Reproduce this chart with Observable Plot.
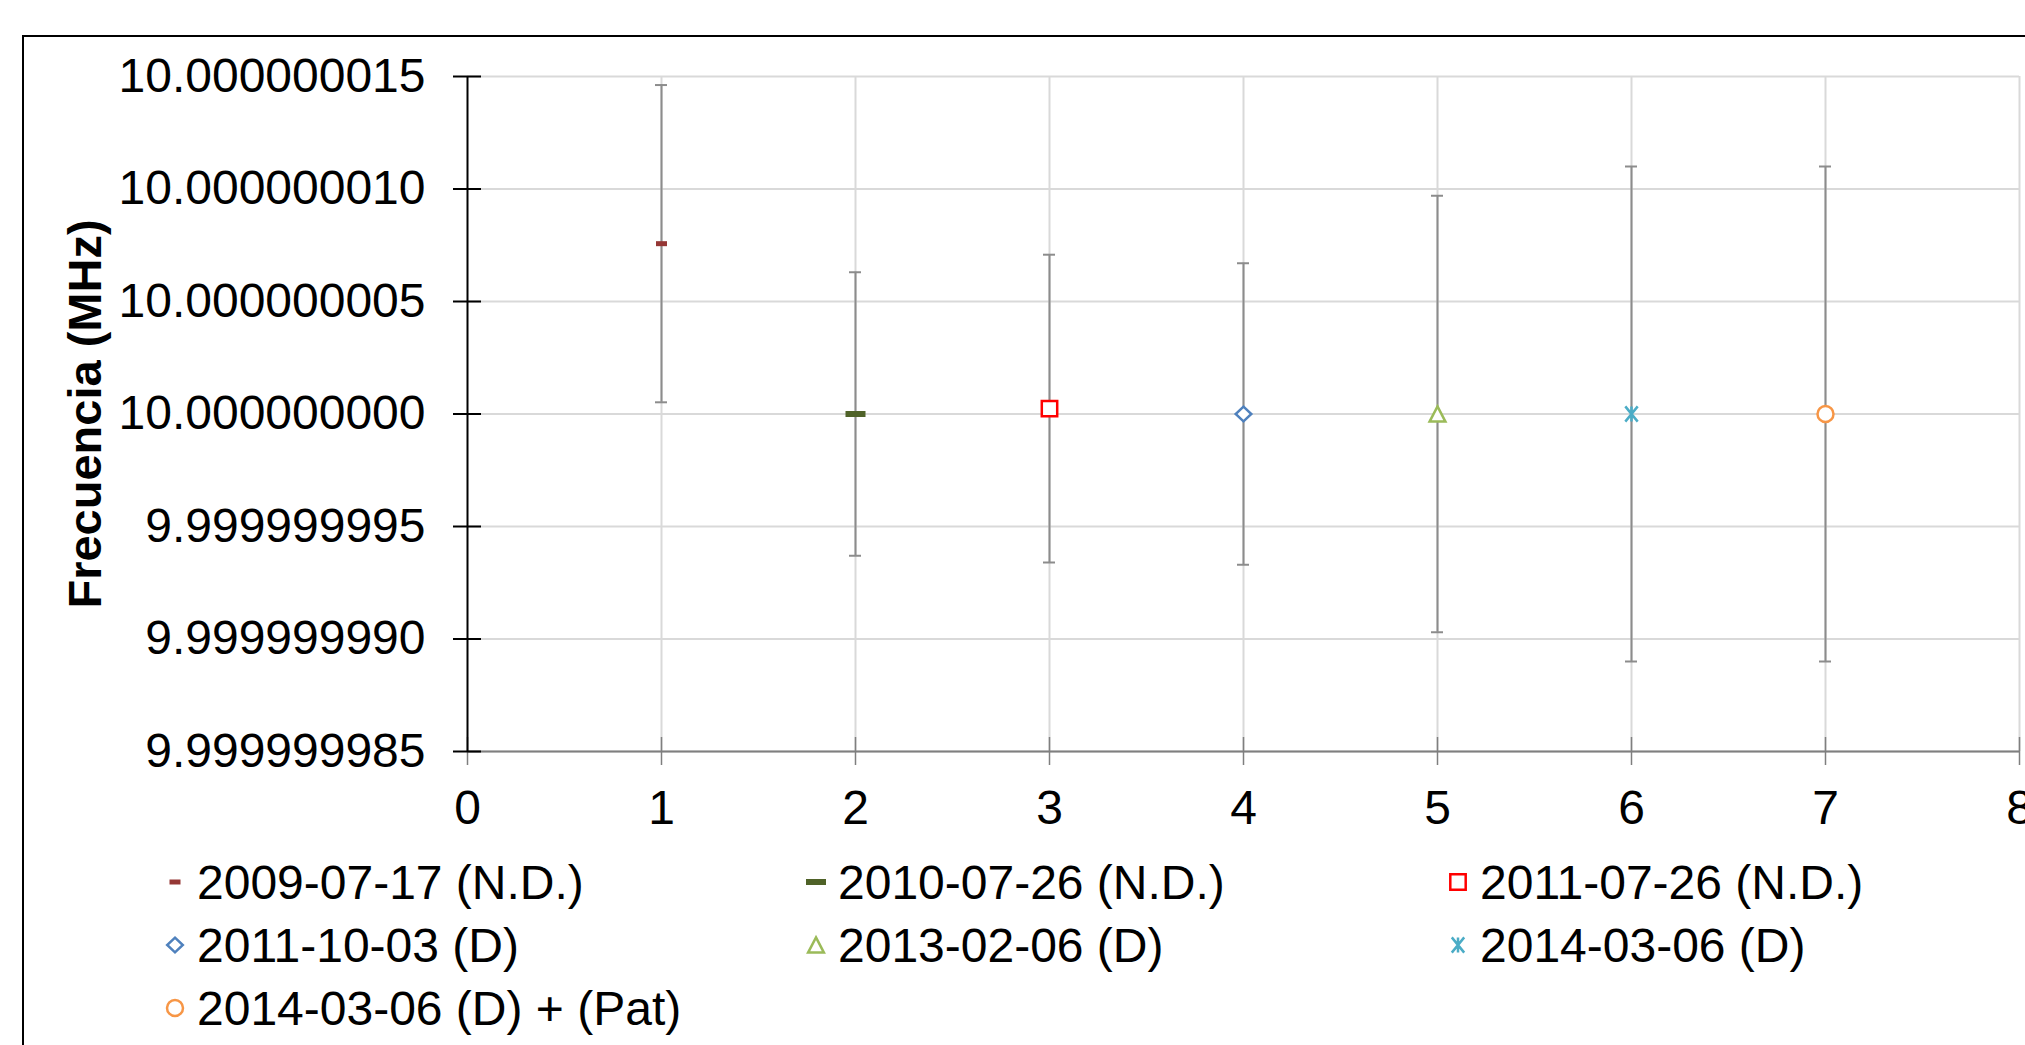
<!DOCTYPE html>
<html><head><meta charset="utf-8">
<script src="https://cdn.jsdelivr.net/npm/d3@7"></script>
<script src="https://cdn.jsdelivr.net/npm/@observablehq/plot@0.6"></script>
<style>
html,body{margin:0;padding:0;overflow:hidden;background:#fff;}
body{width:2025px;height:1045px;position:relative;font-family:"Liberation Sans",Arial,sans-serif;color:#000;}
#chart{position:absolute;left:0;top:0;}
#frame{position:absolute;left:22px;top:35px;width:3000px;height:2000px;border:2px solid #000;pointer-events:none;}
#legend{position:absolute;left:0;top:850px;width:2025px;height:195px;}
.item{position:absolute;display:flex;align-items:center;height:63px;line-height:63px;font-size:48px;white-space:nowrap;}
.item svg{width:30px;height:30px;margin-right:7px;flex:none;overflow:visible;}
</style></head><body>
<div id="chart"></div><div id="legend"></div><div id="frame"></div>
<script>
// ---- data ----
const seriesLabels = [
  "2009-07-17 (N.D.)", "2010-07-26 (N.D.)", "2011-07-26 (N.D.)",
  "2011-10-03 (D)", "2013-02-06 (D)", "2014-03-06 (D)", "2014-03-06 (D) + (Pat)"
];
const seriesX = [1, 2, 3, 4, 5, 6, 7];
const seriesFreq = [10.00000000757, 10.0, 10.00000000024, 10.0, 10.0, 10.0, 10.0];
const seriesErr = [7.05e-9, 6.3e-9, 6.84e-9, 6.7e-9, 9.7e-9, 11.0e-9, 11.0e-9];
const xTicks = [0, 1, 2, 3, 4, 5, 6, 7, 8];
const yTicks = [9.999999985, 9.99999999, 9.999999995, 10.0, 10.000000005, 10.00000001, 10.000000015];
const yTitle = "Frecuencia (MHz)";

// ---- styles ----
const seriesColors = ["#953735", "#4F6228", "#FF0000", "#4F81BD", "#9BBB59", "#4BACC6", "#F79646"];
const dash = (w, h) => ({draw(c){c.moveTo(-w/2,-h/2);c.lineTo(w/2,-h/2);c.lineTo(w/2,h/2);c.lineTo(-w/2,h/2);c.closePath();}});
const square = {draw(c){const s=7.7;c.moveTo(-s,-s);c.lineTo(s,-s);c.lineTo(s,s);c.lineTo(-s,s);c.closePath();}};
const diamond = {draw(c){const w=7.8,h=7.3;c.moveTo(0,-h);c.lineTo(w,0);c.lineTo(0,h);c.lineTo(-w,0);c.closePath();}};
const triangle = {draw(c){const w=7.9,h=7.6;c.moveTo(0,-h);c.lineTo(w,h);c.lineTo(-w,h);c.closePath();}};
const circle = {draw(c){const r=8;c.moveTo(r,0);c.arc(0,0,r,0,2*Math.PI);c.closePath();}};
const star = {draw(c){const s=7.6,w=6.2;c.moveTo(-w,-s);c.lineTo(w,s);c.moveTo(w,-s);c.lineTo(-w,s);c.moveTo(0,-s);c.lineTo(0,s);}};
const seriesSymbols = [dash(11,5), dash(20,6), square, diamond, triangle, star, circle];
const seriesFilled = [true, true, false, false, false, false, false];

const rows = seriesLabels.map((label, i) => ({
  label, x: seriesX[i], y: seriesFreq[i], lo: seriesFreq[i] - seriesErr[i], hi: seriesFreq[i] + seriesErr[i]
}));

const font = "Liberation Sans, Arial, sans-serif";
const barColor = "#8c8c8c";

const dotMarks = rows.map((r, i) => Plot.dot([r], {
  x: "x", y: "y", symbol: seriesSymbols[i], r: 5,
  fill: seriesFilled[i] ? seriesColors[i] : (i === 5 ? "none" : "white"),
  stroke: seriesFilled[i] ? "none" : seriesColors[i],
  strokeWidth: 2.5
}));

const plot = Plot.plot({
  width: 2025, height: 850,
  marginLeft: 467, marginRight: 6, marginTop: 76, marginBottom: 99,
  style: {fontFamily: font, fontSize: "48px", background: "transparent", overflow: "visible", color: "#000"},
  x: {domain: [0, 8]},
  y: {domain: [yTicks[0], yTicks[yTicks.length - 1]]},
  marks: [
    Plot.gridX(xTicks.slice(1), {stroke: "#d9d9d9", strokeOpacity: 1, strokeWidth: 2}),
    Plot.gridY(yTicks, {stroke: "#d9d9d9", strokeOpacity: 1, strokeWidth: 2}),
    Plot.ruleY([yTicks[0]], {stroke: "#7f7f7f", strokeWidth: 2}),
    Plot.axisX(xTicks, {tickSize: 28, dy: -14, tickPadding: 24, stroke: "#7f7f7f", strokeWidth: 1.5,
      fontSize: 48, fill: "#000", label: null, tickFormat: d => String(d)}),
    Plot.ruleX([0], {stroke: "#000", strokeWidth: 2}),
    Plot.axisY(yTicks, {tickSize: 28, dx: 14, tickPadding: 28, stroke: "#000", strokeWidth: 2,
      fontSize: 48, fill: "#000", label: null, tickFormat: d3.format(".9f")}),
    Plot.text([yTitle], {text: d => d, frameAnchor: "left", textAnchor: "middle", lineAnchor: "middle",
      dx: -382, rotate: -90, fontSize: 47, fontWeight: "bold", fill: "#000"}),
    Plot.ruleX(rows, {x: "x", y1: "lo", y2: "hi", stroke: barColor, strokeWidth: 2}),
    Plot.ruleY(rows, {y: "hi", x1: "x", x2: "x", insetLeft: -6, insetRight: -6, stroke: barColor, strokeWidth: 2}),
    Plot.ruleY(rows, {y: "lo", x1: "x", x2: "x", insetLeft: -6, insetRight: -6, stroke: barColor, strokeWidth: 2}),
    ...dotMarks
  ]
});
document.getElementById("chart").appendChild(plot);

// ---- legend ----
const legendColX = [197, 838, 1480];
const legendRowY = [882, 945, 1008];
const legend = document.getElementById("legend");
seriesLabels.forEach((label, i) => {
  const col = i % 3, row = Math.floor(i / 3);
  const item = document.createElement("div");
  item.className = "item";
  item.style.left = (legendColX[col] - 37) + "px";
  item.style.top = (legendRowY[row] - 850 - 31.5) + "px";
  const path = d3.symbol(seriesSymbols[i])();
  const fill = seriesFilled[i] ? seriesColors[i] : (i === 5 ? "none" : "white");
  const stroke = seriesFilled[i] ? "none" : seriesColors[i];
  item.innerHTML = `<svg viewBox="-15 -15 30 30"><path d="${path}" fill="${fill}" stroke="${stroke}" stroke-width="2.5"/></svg><span>${label}</span>`;
  legend.appendChild(item);
});
</script>
</body></html>
